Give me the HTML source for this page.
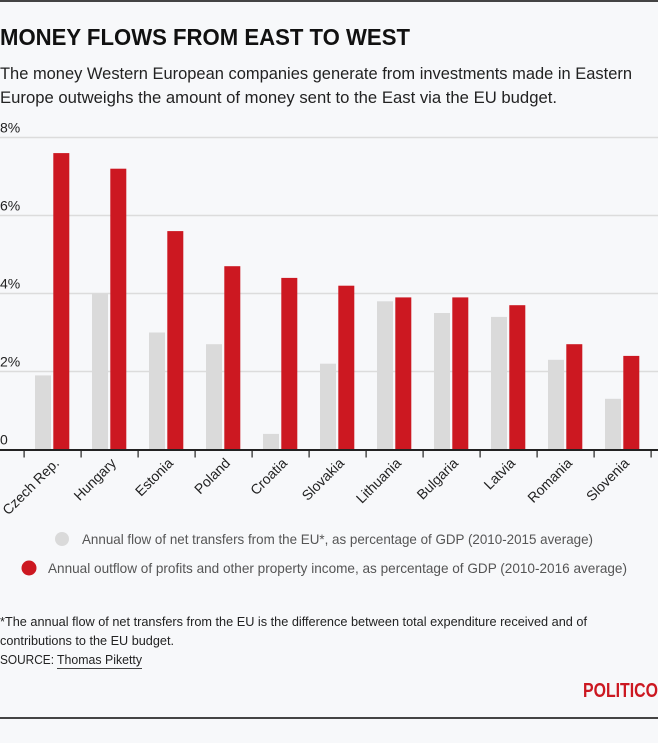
<!DOCTYPE html>
<html><head><meta charset="utf-8"><style>
html,body{margin:0;padding:0;background:#f7f8fa;}
svg{display:block;font-family:"Liberation Sans",sans-serif;}
</style></head><body>
<svg id="c" width="658" height="743" viewBox="0 0 658 743">
<rect x="0" y="0" width="658" height="743" fill="#f7f8fa"/>
<rect x="0" y="0" width="658" height="2" fill="#444"/>
<text x="0" y="45" font-size="23" font-weight="bold" fill="#111" textLength="410" lengthAdjust="spacingAndGlyphs">MONEY FLOWS FROM EAST TO WEST</text>
<text x="0" y="79" font-size="17" fill="#222" textLength="632" lengthAdjust="spacingAndGlyphs">The money Western European companies generate from investments made in Eastern</text>
<text x="0" y="103" font-size="17" fill="#222" textLength="557" lengthAdjust="spacingAndGlyphs">Europe outweighs the amount of money sent to the East via the EU budget.</text>
<g id="grid"></g>
<g id="bars"></g>
<g id="xaxis"></g>
<circle cx="62" cy="539" r="7" fill="#dadada"/>
<text x="82" y="544" font-size="14" fill="#555" textLength="511" lengthAdjust="spacingAndGlyphs">Annual flow of net transfers from the EU*, as percentage of GDP (2010-2015 average)</text>
<circle cx="29" cy="568" r="7.5" fill="#cc1821"/>
<text x="48" y="573" font-size="14" fill="#555" textLength="579" lengthAdjust="spacingAndGlyphs">Annual outflow of profits and other property income, as percentage of GDP (2010-2016 average)</text>
<text x="0" y="626" font-size="13" fill="#222" textLength="587" lengthAdjust="spacingAndGlyphs">*The annual flow of net transfers from the EU is the difference between total expenditure received and of</text>
<text x="0" y="645" font-size="13" fill="#222" textLength="174" lengthAdjust="spacingAndGlyphs">contributions to the EU budget.</text>
<text x="0" y="664" font-size="13" fill="#222" textLength="54" lengthAdjust="spacingAndGlyphs">SOURCE:</text>
<text x="57" y="664" font-size="13" fill="#222" textLength="85" lengthAdjust="spacingAndGlyphs">Thomas Piketty</text>
<rect x="57" y="668" width="85" height="1" fill="#444"/>
<text x="583" y="697" font-size="20" font-weight="bold" fill="#cc1821" textLength="75" lengthAdjust="spacingAndGlyphs">POLITICO</text>
<rect x="0" y="717" width="658" height="2" fill="#444"/>
</svg>
<script>
const categories = ["Czech Rep.","Hungary","Estonia","Poland","Croatia","Slovakia","Lithuania","Bulgaria","Latvia","Romania","Slovenia"];
const euTransfers = [1.9,4.0,3.0,2.7,0.4,2.2,3.8,3.5,3.4,2.3,1.3];
const profitOutflow = [7.6,7.2,5.6,4.7,4.4,4.2,3.9,3.9,3.7,2.7,2.4];
const yTicks = [0,2,4,6,8];
const yTickLabels = ["0","2%","4%","6%","8%"];

const NS = "http://www.w3.org/2000/svg";
const y0 = 449.5, yScale = 39;
function y(v){ return y0 - v*yScale; }
function xBand(i){ return 24 + i*57; }
function mk(tag, attrs, parent){
  const e = document.createElementNS(NS, tag);
  for (const k in attrs) e.setAttribute(k, attrs[k]);
  parent.appendChild(e);
  return e;
}
const grid = document.getElementById('grid');
yTicks.forEach((t,i)=>{
  if (t !== 0) {
    const l = mk('rect',{x:0,y:y(t)-0.75,width:658,height:1.5,fill:'#dcdcdc'},grid);
    
    
  }
  const tx = mk('text',{x:0,y:y(t)-5,'font-size':14,fill:'#222'},grid);
  tx.textContent = yTickLabels[i];
  
  
});
const bars = document.getElementById('bars');
categories.forEach((c,i)=>{
  const x = xBand(i);
  const g = mk('rect',{x:x+11,y:y(euTransfers[i]),width:16,height:euTransfers[i]*yScale,fill:'#dadada'},bars);
  
  
  const r = mk('rect',{x:x+29.3,y:y(profitOutflow[i]),width:16,height:profitOutflow[i]*yScale,fill:'#cc1821'},bars);
  
  
});
const xa = document.getElementById('xaxis');
const ax = mk('rect',{x:0,y:y0-0.5,width:658,height:2,fill:'#222'},xa);


for (let i=0;i<=categories.length;i++){
  const tk = mk('rect',{x:xBand(i)-0.5,y:y0,width:1.2,height:8,fill:'#222'},xa);
  
  
}
categories.forEach((c,i)=>{
  const cx = xBand(i)+36, cy = 464;
  const t = mk('text',{x:cx,y:cy,'font-size':14,fill:'#222','text-anchor':'end',transform:'rotate(-45 '+cx+' '+cy+')'},xa);
  t.textContent = c;
  
  
});
</script>
</body></html>
